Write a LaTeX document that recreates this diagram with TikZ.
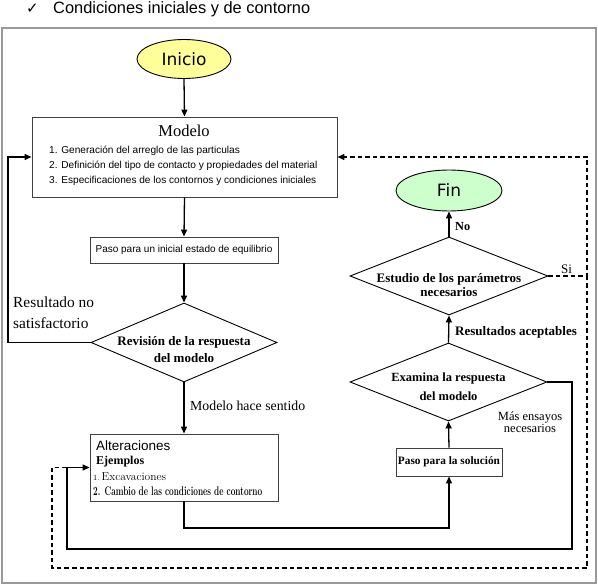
\documentclass[tikz,border=0pt]{standalone}
\usepackage{fontspec}
\usepackage{graphicx}
\newfontfamily\arialf{Liberation Sans}
\newfontfamily\timesf{Liberation Serif}
\newfontfamily\dejaf{DejaVu Sans}
\usetikzlibrary{shapes.geometric,arrows.meta}
\newcommand{\fs}[2]{\fontsize{#1}{#2}\selectfont}
\tikzset{
  conn/.style={line width=1.3pt, draw=black},
  arr/.style={conn, -{Triangle[length=7pt,width=6pt]}},
  dconn/.style={line width=1.3pt, dashed, dash pattern=on 4.5pt off 3pt},
  box/.style={draw=black!75, line width=0.9pt, fill=white, inner sep=0pt, rectangle},
  dia/.style={diamond, draw=black, line width=0.9pt, fill=white, inner sep=0pt, aspect=2.4},
  ell/.style={ellipse, draw=black, line width=0.9pt, inner sep=0pt},
  txt/.style={inner sep=0pt, align=center},
  ltxt/.style={inner sep=0pt, align=left, anchor=west}
}
\begin{document}
\begin{tikzpicture}[x=1pt,y=-1pt]
\useasboundingbox (0,0) rectangle (598,588);
% outer frame
\draw[draw=black!40, line width=1.5pt] (2,28) rectangle (596,583);
% top line
\node[txt, anchor=west, font=\dejaf\fs{15}{17}] (chk) at (26,9) {✓};
\node[ltxt, font=\arialf\fs{16.4}{19}] (toptxt) at (53,9) {Condiciones iniciales y de contorno};

% nodes
\node[ell, fill={rgb,255:red,255;green,255;blue,153}, minimum width=94, minimum height=39, font=\dejaf\fs{17}{20}] (inicio) at (184,59) {Inicio};
\node[box, minimum width=305, minimum height=80] (modelo) at (184.5,157) {};
\node[txt, font=\timesf\fs{16.5}{18}] (modtitle) at (184,131) {Modelo};
\node[ltxt, font=\arialf\fs{10.1}{15}] (moditems) at (49,166) {1. Generación del arreglo de las particulas\\2. Definición del tipo de contacto y propiedades del material\\3. Especificaciones de los contornos y condiciones iniciales};

\node[box, minimum width=188, minimum height=26, font=\arialf\fs{10}{12}] (paso1) at (184,250) {Paso para un inicial estado de equilibrio};

\node[dia, minimum width=186, minimum height=79] (rev) at (184,342.5) {};
\node[txt, font=\timesf\bfseries\fs{13}{17}] (revtxt) at (184,350) {Revisión de la respuesta\\del modelo};

\node[ltxt, anchor=north west, font=\timesf\fs{15.4}{21}] (resno) at (13,297) {Resultado no\\satisfactorio};
\node[ltxt, font=\timesf\fs{13.8}{16}] (sentido) at (190,406) {Modelo hace sentido};

\node[box, minimum width=188, minimum height=67] (alt) at (184,467.5) {};
\node[ltxt, font=\arialf\fs{13.5}{16}] (alttitle) at (96,446) {Alteraciones};
\node[ltxt, font=\timesf\bfseries\fs{12}{14}] (ejem) at (96,462) {Ejemplos};
\node[ltxt, font=\fs{11.5}{13}] (ej1) at (93,477) {{\fs{8}{10}1.}\,Excavaciones};
\node[ltxt] (ej2) at (93,491) {\scalebox{0.66}[1]{\bfseries\fs{12.5}{14}2. Cambio de las condiciones de contorno}};

\node[box, minimum width=106, minimum height=28, font=\timesf\bfseries\fs{11.3}{13}] (sol) at (449,462) {Paso para la solución};

\node[dia, minimum width=197, minimum height=78] (exa) at (448.5,382) {};
\node[txt, font=\timesf\bfseries\fs{12.5}{19}] (exatxt) at (448.5,386.5) {Examina la respuesta\\del modelo};

\node[dia, minimum width=198, minimum height=78] (est) at (449,276) {};
\node[txt, font=\timesf\bfseries\fs{13}{14.5}] (esttxt) at (449,285) {Estudio de los parámetros\\necesarios};

\node[ell, fill={rgb,255:red,204;green,255;blue,204}, minimum width=106, minimum height=41, font=\dejaf\fs{17}{20}] (fin) at (449,190.5) {Fin};

\node[ltxt, font=\timesf\bfseries\fs{12.3}{14}] (no) at (455,227) {No};
\node[ltxt, font=\timesf\fs{13}{15}] (si) at (561,269) {Si};
\node[ltxt, font=\timesf\bfseries\fs{13}{15}] (acep) at (455,332) {Resultados aceptables};
\node[txt, font=\timesf\fs{12.5}{12}] (mas) at (530,422) {Más ensayos\\necesarios};

% coordinates for connectors
\coordinate (lft) at (8,342.5);
\coordinate (c1) at (572,549);
\coordinate (c2) at (67,549);
\coordinate (d1) at (587,276);
\coordinate (d2) at (587,568);
\coordinate (d3) at (52,568);
\coordinate (d4) at (52,467.5);
\coordinate (j1) at (67,467.5);
\coordinate (b1) at (184,528);

% connectors
\draw[arr] (inicio.south) -- (modelo.north);
\draw[arr] (modelo.south) -- (paso1.north);
\draw[arr] (paso1.south) -- (rev.north);
\draw[arr] (rev.south) -- (alt.north);
\draw[arr] (rev.west) -- (lft) |- (modelo.west);
\draw[arr] (alt.south) -- (b1) -| (sol.south);
\draw[arr] (sol.north) -- (exa.south);
\draw[arr] (exa.north) -- (est.south);
\draw[arr] (est.north) -- (fin.south);
\draw[arr] (exa.east) -| (c1) -- (c2) |- (alt.west);
\draw[dconn, -{Triangle[length=7pt,width=6pt]}] (est.east) -- (d1) |- (modelo.east);
\draw[dconn] (d1) -- (d2) -- (d3) -- (d4) -- (j1);
\end{tikzpicture}
\end{document}
